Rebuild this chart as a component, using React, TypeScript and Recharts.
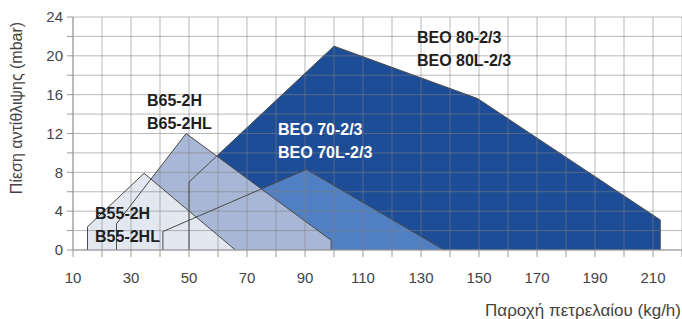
import {
  ComposedChart,
  Area,
  Line,
  XAxis,
  YAxis,
  ReferenceDot,
} from "recharts";

// axis ticks (grid every 10 / every 2, labels every 20 / every 4)
const xTicks = [10, 20, 30, 40, 50, 60, 70, 80, 90, 100, 110, 120, 130, 140, 150, 160, 170, 180, 190, 200, 210, 220];
const xLabelled = [10, 30, 50, 70, 90, 110, 130, 150, 170, 190, 210];
const yTicks = [0, 2, 4, 6, 8, 10, 12, 14, 16, 18, 20, 22, 24];
const yLabelled = [0, 4, 8, 12, 16, 20, 24];

// working fields (flow kg/h, pressure mbar)
const b55 = [
  { x: 15, y: 0 },
  { x: 15, y: 2.4 },
  { x: 34.5, y: 7.9 },
  { x: 66, y: 0 },
];
const b65 = [
  { x: 25, y: 0 },
  { x: 25, y: 2.7 },
  { x: 49, y: 12 },
  { x: 99, y: 1 },
  { x: 99, y: 0 },
];
const beo70 = [
  { x: 41, y: 0 },
  { x: 41, y: 1.9 },
  { x: 90.5, y: 8.3 },
  { x: 138, y: 0 },
];
const beo80 = [
  { x: 50, y: 0 },
  { x: 50, y: 7 },
  { x: 100, y: 21 },
  { x: 149.5, y: 15.6 },
  { x: 212.5, y: 3.1 },
  { x: 212.5, y: 0 },
];

const fieldNames = [
  { key: "beo80", points: beo80, fill: "#1e4d97" },
  { key: "beo70", points: beo70, fill: "#5080c3" },
  { key: "b65", points: b65, fill: "#a9b7d6" },
  { key: "b55", points: b55, fill: "#e2e7f0" },
];

const labels = [
  { x: 35.5, y: 15.45, lines: ["B65-2H", "B65-2HL"], color: "#1e1e1e" },
  { x: 17.6, y: 3.81, lines: ["B55-2H", "B55-2HL"], color: "#1e1e1e" },
  { x: 80.7, y: 12.46, lines: ["BEO 70-2/3", "BEO 70L-2/3"], color: "#ffffff" },
  { x: 128.6, y: 21.9, lines: ["BEO 80-2/3", "BEO 80L-2/3"], color: "#1e1e1e" },
];

// grid drawn as plain line series so it sits over the filled fields
const gridSeries = [
  ...xTicks.map((v) => ({ key: `gx${v}`, points: [{ x: v, y: 0 }, { x: v, y: 24 }] })),
  ...yTicks.map((v) => ({ key: `gy${v}`, points: [{ x: 10, y: v }, { x: 220, y: v }] })),
];

// one row per vertex, other series left null
const rows = [...fieldNames, ...gridSeries]
  .flatMap((f) => f.points.map((p) => ({ x: p.x, [f.key]: p.y })))
  .sort((a, b) => a.x - b.x);

const FONT = "'Liberation Sans', Arial, sans-serif";
const TICK = "#9a9a9a";

const TwoLineLabel = ({ viewBox, lines, color }: any) => {
  const { x, y } = viewBox;
  return (
    <text
      x={x}
      y={y}
      fill={color}
      fontFamily={FONT}
      fontWeight="bold"
      fontSize={16}
      dominantBaseline="central"
    >
      <tspan x={x} dy={0}>{lines[0]}</tspan>
      <tspan x={x} dy={23}>{lines[1]}</tspan>
    </text>
  );
};

export default function App() {
  return (
    <div
      style={{
        position: "absolute",
        left: 0,
        top: 0,
        width: 682,
        height: 319,
        background: "#fff",
        fontFamily: FONT,
      }}
    >
      <ComposedChart
        width={682}
        height={319}
        data={rows}
        margin={{ top: 17, right: 0, bottom: 0, left: 0 }}
      >
        <XAxis
          type="number"
          dataKey="x"
          domain={[10, 220]}
          ticks={xTicks}
          interval={0}
          height={69}
          tickSize={7}
          tickMargin={15}
          stroke={TICK}
          tick={{ fill: "#444", fontSize: 15, fontFamily: FONT }}
          tickFormatter={(v) => (xLabelled.includes(v) ? String(v) : "")}
        />
        <YAxis
          type="number"
          domain={[0, 24]}
          ticks={yTicks}
          interval={0}
          width={73}
          tickSize={6}
          tickMargin={4}
          stroke={TICK}
          tick={{ fill: "#444", fontSize: 15, fontFamily: FONT }}
          tickFormatter={(v) => (yLabelled.includes(v) ? String(v) : "")}
        />
        {fieldNames.map((f) => (
          <Area
            key={`a-${f.key}`}
            dataKey={f.key}
            type="linear"
            fill={f.fill}
            fillOpacity={1}
            stroke="none"
            connectNulls
            activeDot={false}
            isAnimationActive={false}
          />
        ))}
        {gridSeries.map((g) => (
          <Line
            key={g.key}
            dataKey={g.key}
            type="linear"
            stroke="#7f7f7f"
            strokeOpacity={0.55}
            strokeWidth={1}
            dot={false}
            activeDot={false}
            connectNulls
            isAnimationActive={false}
          />
        ))}
        {fieldNames.map((f) => (
          <Line
            key={`l-${f.key}`}
            dataKey={f.key}
            type="linear"
            stroke="#4a4a4a"
            strokeWidth={1}
            dot={false}
            activeDot={false}
            connectNulls
            isAnimationActive={false}
          />
        ))}
        {labels.map((l) => (
          <ReferenceDot
            key={l.lines[0]}
            x={l.x}
            y={l.y}
            r={0}
            stroke="none"
            fill="none"
            label={{
              content: (props: any) => (
                <TwoLineLabel {...props} lines={l.lines} color={l.color} />
              ),
            }}
          />
        ))}
      </ComposedChart>
      <div
        style={{
          position: "absolute",
          right: 1,
          top: 301,
          fontSize: 17,
          color: "#444",
          whiteSpace: "nowrap",
        }}
      >
        Παροχή πετρελαίου (kg/h)
      </div>
      <div
        style={{
          position: "absolute",
          left: 17,
          top: 108,
          fontSize: 16,
          color: "#444",
          whiteSpace: "nowrap",
          transform: "translate(-50%, -50%) rotate(-90deg)",
        }}
      >
        Πίεση αντίθλιψης (mbar)
      </div>
    </div>
  );
}
